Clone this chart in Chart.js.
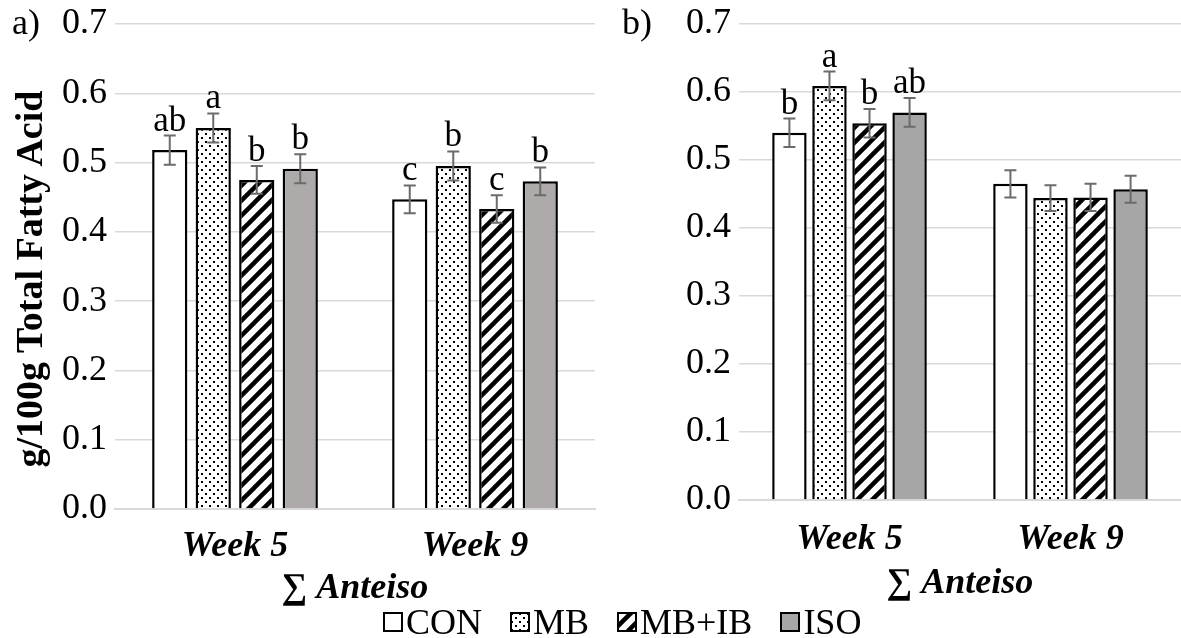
<!DOCTYPE html>
<html>
<head>
<meta charset="utf-8">
<script src="https://cdn.jsdelivr.net/npm/chart.js@4.4.1/dist/chart.umd.min.js"></script>
<style>
    body { margin: 0; background: #fff; width: 1181px; height: 638px; overflow: hidden; position: relative;
           font-family: 'Liberation Serif', 'Times New Roman', serif; }
    #chart-a { position: absolute; left: 0; top: -8px; }
    #chart-b { position: absolute; left: 600px; top: -8px; }
    .panel-tag { position: absolute; top: 3px; font-size: 36px; line-height: 38px; color: #000; }
    #y-title { position: absolute; left: 29px; top: 279px; transform: translate(-50%, -50%) rotate(-90deg);
               white-space: nowrap; font-size: 38px; font-weight: bold; line-height: 40px; color: #000; }
    #legend { position: absolute; top: 603px; left: 383px; display: flex; align-items: center; gap: 28px;
              font-size: 36px; line-height: 38px; color: #000; }
    .item { display: flex; align-items: center; gap: 3px; }
</style>
</head>
<body>
<canvas id="chart-a" width="600" height="646"></canvas>
<canvas id="chart-b" width="581" height="646"></canvas>
<div class="panel-tag" style="left:12px">a)</div>
<div class="panel-tag" style="left:622px">b)</div>
<div id="y-title">g/100g Total Fatty Acid</div>
<div id="legend"></div>
<script>
const categories = ['Week 5', 'Week 9'];
const treatments = ['CON', 'MB', 'MB+IB', 'ISO'];
const yTicks = [0, 0.1, 0.2, 0.3, 0.4, 0.5, 0.6, 0.7];

// panel a
const aCON = [0.518, 0.447];
const aMB = [0.550, 0.495];
const aMBIB = [0.475, 0.433];
const aISO = [0.491, 0.473];
const aErr = [[0.021, 0.020], [0.021, 0.021], [0.020, 0.020], [0.021, 0.020]];
const aLetters = [['ab', 'c'], ['a', 'b'], ['b', 'c'], ['b', 'b']];

// panel b
const bCON = [0.540, 0.465];
const bMB = [0.609, 0.444];
const bMBIB = [0.554, 0.445];
const bISO = [0.570, 0.457];
const bErr = [[0.021, 0.020], [0.021, 0.019], [0.021, 0.020], [0.021, 0.020]];
const bLetters = [['b', ''], ['a', ''], ['b', ''], ['ab', '']];

const serif = "'Liberation Serif', 'Times New Roman', serif";

function makePattern(kind) {
    const c = document.createElement('canvas');
    const ctx = c.getContext('2d');
    if (kind === 'dots') {
        c.width = 8; c.height = 8;
        ctx.fillStyle = '#fff'; ctx.fillRect(0, 0, 8, 8);
        ctx.fillStyle = '#000';
        ctx.fillRect(1, 1, 2, 2);
        ctx.fillRect(5, 5, 2, 2);
    } else {
        const s = 15;
        c.width = s; c.height = s;
        ctx.fillStyle = '#fff'; ctx.fillRect(0, 0, s, s);
        ctx.strokeStyle = '#000'; ctx.lineWidth = 4.5;
        [[0, s, s, 0], [-s, s, s, -s], [0, 2 * s, 2 * s, 0]].forEach(l => {
            ctx.beginPath(); ctx.moveTo(l[0], l[1]); ctx.lineTo(l[2], l[3]); ctx.stroke();
        });
    }
    return document.createElement('canvas').getContext('2d').createPattern(c, 'repeat');
}

const dots = makePattern('dots');
const hatch = makePattern('hatch');

const errorBars = {
    id: 'errorBars',
    afterDatasetsDraw(chart) {
        const ctx = chart.ctx;
        const y = chart.scales.y;
        chart.data.datasets.forEach((ds, i) => {
            const meta = chart.getDatasetMeta(i);
            meta.data.forEach((bar, j) => {
                const v = ds.data[j], e = ds.errors[j];
                const top = y.getPixelForValue(v + e);
                const bot = y.getPixelForValue(v - e);
                ctx.save();
                ctx.strokeStyle = '#6b6b6b';
                ctx.lineWidth = 2;
                ctx.beginPath();
                ctx.moveTo(bar.x, top); ctx.lineTo(bar.x, bot);
                ctx.moveTo(bar.x - 6, top); ctx.lineTo(bar.x + 6, top);
                ctx.moveTo(bar.x - 6, bot); ctx.lineTo(bar.x + 6, bot);
                ctx.stroke();
                if (ds.letters[j]) {
                    ctx.fillStyle = '#000';
                    ctx.font = '35px ' + serif;
                    ctx.textAlign = 'center';
                    ctx.textBaseline = 'alphabetic';
                    ctx.fillText(ds.letters[j], bar.x, top - 5);
                }
                ctx.restore();
            });
        });
    }
};

function buildDatasets(values, errs, letters, gray, barPct) {
    const fills = ['#ffffff', dots, hatch, gray];
    return treatments.map((t, i) => ({
        label: t,
        data: values[i],
        errors: errs[i],
        letters: letters[i],
        backgroundColor: fills[i],
        borderColor: '#000',
        borderWidth: 2.5,
        categoryPercentage: 0.725,
        barPercentage: barPct
    }));
}

function makeChart(id, datasets, opts) {
    return new Chart(document.getElementById(id), {
        type: 'bar',
        data: { labels: categories, datasets: datasets },
        plugins: [errorBars],
        options: {
            responsive: false,
            animation: false,
            devicePixelRatio: 1,
            layout: { padding: opts.padding },
            plugins: { legend: { display: false }, tooltip: { enabled: false } },
            scales: {
                x: {
                    grid: { display: false },
                    border: { color: '#d9d9d9', width: 2 },
                    ticks: { color: '#000', padding: opts.tickPad,
                             font: { family: serif, size: 36, weight: 'bold', style: 'italic', lineHeight: 1 } },
                    title: { display: true, text: '\u2211 Anteiso', color: '#000', padding: { top: -6, bottom: 0 },
                             font: { family: serif, size: 36, weight: 'bold', style: 'italic', lineHeight: 1 } }
                },
                y: {
                    min: 0, max: 0.7,
                    afterBuildTicks: axis => { axis.ticks = yTicks.map(v => ({ value: v })); },
                    grid: { color: '#d9d9d9', lineWidth: 1.5, drawTicks: false },
                    border: { display: false },
                    ticks: { color: '#000', padding: 8, font: { family: serif, size: 36 },
                             callback: v => v.toFixed(1) }
                }
            }
        }
    });
}

makeChart('chart-a', buildDatasets([aCON, aMB, aMBIB, aISO], aErr, aLetters, '#aeaaaa', 0.81),
    { padding: { top: 32, right: 5, bottom: 31, left: 54 }, tickPad: 12 });
makeChart('chart-b', buildDatasets([bCON, bMB, bMBIB, bISO], bErr, bLetters, '#a6a6a6', 0.86),
    { padding: { top: 32, right: 0, bottom: 36, left: 78 }, tickPad: 14 });

// legend
const legend = document.getElementById('legend');
['#ffffff', dots, hatch, '#a6a6a6'].forEach((fill, i) => {
    const item = document.createElement('div');
    item.className = 'item';
    const sw = document.createElement('canvas');
    sw.width = 20; sw.height = 20;
    const c = sw.getContext('2d');
    c.fillStyle = fill; c.fillRect(0, 0, 20, 20);
    c.strokeStyle = '#000'; c.lineWidth = 2; c.strokeRect(1, 1, 18, 18);
    const label = document.createElement('span');
    label.textContent = treatments[i];
    item.appendChild(sw);
    item.appendChild(label);
    legend.appendChild(item);
});
</script>
</body>
</html>
